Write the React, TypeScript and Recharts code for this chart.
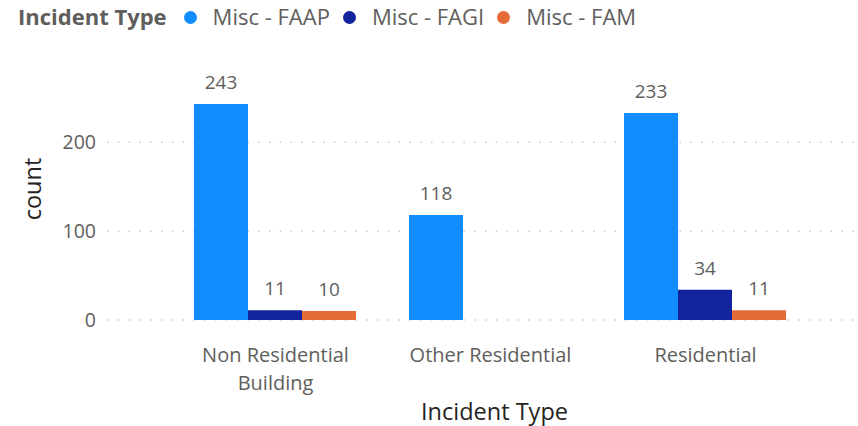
import { BarChart, Bar, XAxis, YAxis, CartesianGrid, LabelList, Text } from "recharts";

const FONT = "'Open Sans', 'Segoe UI', sans-serif";

const categories = ["Non Residential Building", "Other Residential", "Residential"];
const faapCounts = [243, 118, 233];
const fagiCounts = [11, null, 34];
const famCounts = [10, null, 11];
const seriesKeys = ["faap", "fagi", "fam"];
const seriesNames = ["Misc - FAAP", "Misc - FAGI", "Misc - FAM"];
const seriesColors = ["#118DFF", "#12239E", "#E66C37"];
const yTicks = [0, 100, 200];

const data = categories.map((name, i) => ({
  name,
  faap: faapCounts[i],
  fagi: fagiCounts[i],
  fam: famCounts[i],
}));

function CategoryTick({ x, y, payload }: any) {
  return (
    <Text
      x={x}
      y={y}
      width={180}
      textAnchor="middle"
      verticalAnchor="start"
      lineHeight={28}
      fill="#605E5C"
      style={{ fontSize: "20px", fontFamily: FONT }}
    >
      {payload.value}
    </Text>
  );
}

function Legend() {
  return (
    <div
      style={{
        position: "absolute",
        left: 18,
        top: 1,
        display: "flex",
        alignItems: "center",
        fontFamily: FONT,
        fontSize: 22,
        color: "#605E5C",
        whiteSpace: "nowrap",
      }}
    >
      <span style={{ fontWeight: 700, marginRight: 17 }}>Incident Type</span>
      {seriesNames.map((n, i) => (
        <span key={n} style={{ display: "flex", alignItems: "center", marginRight: 13 }}>
          <span
            style={{
              width: 13,
              height: 13,
              borderRadius: 7,
              background: seriesColors[i],
              marginRight: 16,
              position: "relative",
              top: 1,
            }}
          />
          {n}
        </span>
      ))}
    </div>
  );
}

export default function App() {
  return (
    <div style={{ position: "absolute", left: 0, top: 0, width: 858, height: 426, background: "#fff" }}>
      <Legend />
      <BarChart
        width={858}
        height={426}
        data={data}
        margin={{ top: 80, right: 2, bottom: 0, left: 0 }}
        barCategoryGap={26}
        barGap={0}
        style={{ fontFamily: FONT }}
      >
        <CartesianGrid
          vertical={false}
          syncWithTicks
          stroke="#B3B0AD"
          strokeDasharray="1.5 9.3"
        />
        <XAxis
          dataKey="name"
          height={106}
          axisLine={false}
          tickLine={false}
          tickSize={0}
          tickMargin={28}
          padding={{ left: 61, right: 43 }}
          tick={<CategoryTick />}
          interval={0}
          label={{
            value: "Incident Type",
            position: "insideBottom",
            offset: 6,
            dx: 13,
            fill: "#252423",
            fontSize: 23.5,
          }}
        />
        <YAxis
          width={107}
          domain={[0, 270]}
          ticks={yTicks}
          axisLine={false}
          tickLine={false}
          tickSize={0}
          tickMargin={15}
          tick={{ fill: "#605E5C", fontSize: 19.5, dx: 4 }}
          label={{
            value: "count",
            angle: -90,
            position: "insideLeft",
            offset: 33,
            dy: -11,
            fill: "#252423",
            fontSize: 23.5,
            style: { textAnchor: "middle" },
          }}
        />
        {seriesKeys.map((k, i) => (
          <Bar key={k} dataKey={k} name={seriesNames[i]} fill={seriesColors[i]} isAnimationActive={false}>
            <LabelList dataKey={k} position="top" offset={15} fill="#605E5C" fontSize={19} />
          </Bar>
        ))}
      </BarChart>
    </div>
  );
}
